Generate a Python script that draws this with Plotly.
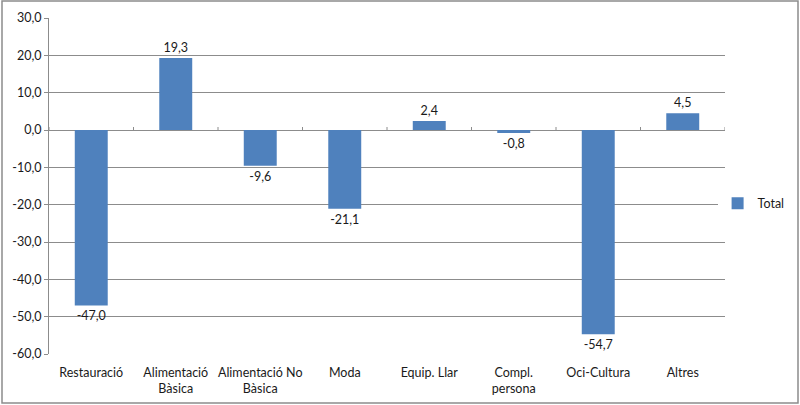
import plotly.graph_objects as go

categories = ["Restauració", "Alimentació<br>Bàsica", "Alimentació No<br>Bàsica", "Moda",
              "Equip. Llar", "Compl.<br>persona", "Oci-Cultura", "Altres"]
values = [-47.0, 19.3, -9.6, -21.1, 2.4, -0.8, -54.7, 4.5]
series_name = "Total"
ytick_vals = [30, 20, 10, 0, -10, -20, -30, -40, -50, -60]
ytick_text = ["30,0", "20,0", "10,0", "0,0", "-10,0", "-20,0", "-30,0", "-40,0", "-50,0", "-60,0"]

labels = [f"{v:.1f}".replace(".", ",") for v in values]
FONT = "Lato"
grid = "#8c8c8c"

fig = go.Figure()
fig.add_trace(go.Bar(
    x=list(range(len(categories))), y=values, name=series_name,
    marker=dict(color="#4F81BD", line=dict(width=0)),
    width=0.39,
    text=labels, textposition="outside", cliponaxis=False,
    textfont=dict(family=FONT, size=12.5, color="#1a1a1a"),
    showlegend=True,
))

shapes = []
for i in range(len(categories) + 1):
    b = i - 0.5
    shapes.append(dict(type="line", xref="x", yref="y", x0=b, x1=b,
                       ysizemode="pixel", yanchor=0, y0=-1, y1=3,
                       line=dict(color=grid, width=1)))
shapes.append(dict(type="rect", xref="paper", yref="paper",
                   x0=(2 - 49) / 676, x1=(798 - 49) / 676,
                   y0=(354 - 403) / 336, y1=(354 - 1) / 336,
                   line=dict(color="#8c8c8c", width=1.5), fillcolor="rgba(0,0,0,0)", layer="below"))

fig.update_layout(
    width=800, height=405,
    margin=dict(l=49, r=75, t=18, b=51, autoexpand=False),
    paper_bgcolor="white", plot_bgcolor="white",
    font=dict(family=FONT, size=12, color="#1a1a1a"),
    shapes=shapes,
    legend=dict(xref="container", yref="container", x=0.897, y=0.497,
                xanchor="left", yanchor="middle",
                font=dict(family=FONT, size=12.5, color="#1a1a1a"),
                itemwidth=30),
    showlegend=True,
)
fig.update_xaxes(
    tickvals=list(range(len(categories))), ticktext=categories,
    range=[-0.5, len(categories) - 0.5], automargin=False,
    showgrid=False, showline=False, ticks="", zeroline=False,
    ticklabelstandoff=9,
    tickfont=dict(family=FONT, size=12.5, color="#1a1a1a"),
)
fig.update_yaxes(
    range=[-60, 30], tickvals=ytick_vals, ticktext=ytick_text, automargin=False,
    showgrid=True, gridcolor=grid, gridwidth=1,
    zeroline=True, zerolinecolor=grid, zerolinewidth=1,
    showline=True, linecolor=grid, linewidth=1,
    ticks="outside", ticklen=4, tickcolor=grid,
    tickfont=dict(family=FONT, size=12.5, color="#1a1a1a"),
)

fig.write_html("out.html", config={"displayModeBar": False},
               post_script="document.body.style.margin='0';document.body.style.padding='0';")
